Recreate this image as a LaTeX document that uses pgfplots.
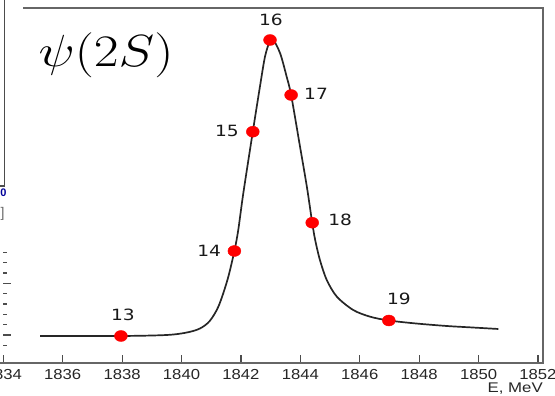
\documentclass[border=0pt]{standalone}
\usepackage{pgfplots}
\pgfplotsset{compat=1.18}
\usetikzlibrary{calc}
\usepackage{graphicx}
\usepackage{fontspec}
\newfontfamily\dv{DejaVu Sans}
\newfontfamily\lib{Liberation Sans}
\newcommand\sx[1]{\scalebox{1.15}[1]{#1}}
\newcommand\sy[1]{\scalebox{1.2}[1]{#1}}
\begin{document}
\begin{tikzpicture}[x=1pt,y=1pt]
\begin{axis}[
  name=ax, scale only axis,
  width=539.7pt, height=355.5pt,
  xmin=1834, xmax=1852.17, ymin=0, ymax=355.5,
  axis x line=bottom, axis y line=left,
  axis line style={draw=none,-},
  tick align=inside,
  xtick={1834,1836,...,1852},
  xticklabels={\sx{1834},\sx{1836},\sx{1838},\sx{1840},\sx{1842},\sx{1844},\sx{1846},\sx{1848},\sx{1850},\sx{1852}},
  minor x tick num=3,
  ytick={28.5,80.2},
  yticklabels={},
  minor ytick={18.2,38.8,49.2,59.5,69.8,90.5,100.9,111.2},
  major tick length=8pt, minor tick length=4pt,
  every tick/.style={black!70, line width=1.2pt},
  xticklabel style={font=\lib\fontsize{14.5}{15}\selectfont, text=black!85, yshift=-2.5pt},
  clip=false,
]
\coordinate (O) at (rel axis cs:0,0);
\addplot[smooth, black!85, line width=1.7pt] coordinates {
(1835.24,27.5) (1837.96,27.5) (1839.50,28.5) (1840.18,31.0) (1840.62,35.0)
(1840.95,42.5) (1841.25,57.5) (1841.55,84.0) (1841.78,112.5) (1841.91,133.5)
(1842.08,170.2) (1842.40,231.8) (1842.64,276.8) (1842.81,306.8) (1842.98,323.5)
(1843.06,325.5) (1843.32,310.2) (1843.54,286.8) (1843.69,268.5) (1843.99,216.8)
(1844.22,176.8) (1844.40,140.8) (1844.50,123.5) (1844.66,103.5) (1844.89,83.5)
(1845.23,66.8) (1845.78,53.5) (1846.35,46.8) (1846.98,43) (1847.9,40)
(1848.93,37.5) (1849.8,36) (1850.67,34.5)
};
\addplot[only marks, mark=*, mark size=5.5pt, red, mark options={xscale=1.18, draw=red, fill=red}] coordinates {
(1837.96,27.5) (1841.78,112.5) (1842.40,231.8) (1842.98,323.5) (1843.69,268.5) (1844.40,140.8) (1846.98,43)
};
\begin{scope}[every node/.style={font=\dv\fontsize{15.5}{16}\selectfont, text=black!90}]
\node at (axis cs:1838.03,48.5) {\sy{13}};
\node at (axis cs:1840.93,112.5) {\sy{14}};
\node at (axis cs:1841.53,232.5) {\sy{15}};
\node at (axis cs:1843.01,343.5) {\sy{16}};
\node at (axis cs:1844.53,269.5) {\sy{17}};
\node at (axis cs:1845.34,143.5) {\sy{18}};
\node at (axis cs:1847.32,64.5) {\sy{19}};
\end{scope}
\end{axis}
\begin{scope}[shift={($(O)+(-3.3,-32.5)$)}]
\draw[black!60, line width=2pt] (0,32.5) -- (543,32.5) -- (543,388) -- (23,388);
\draw[black!70, line width=1.5pt] (0,210) -- (4.5,210) -- (4.5,397);
\node[font=\lib\bfseries\fontsize{11}{11}\selectfont, text=blue!60!black] at (3.5,203) {0};
\node[font=\lib\fontsize{14}{14}\selectfont, text=black!60] at (2.5,182.5) {]};
\node[font=\Huge] at (106,340.5) {\scalebox{2.17}[1.81]{$\psi(2S)$}};
\node[font=\lib\fontsize{14}{14}\selectfont, text=black!85, anchor=east, inner sep=1pt] at (544,7.5) {\sy{E, MeV}};
\pgfresetboundingbox
\useasboundingbox (0,0) rectangle (555,396);
\end{scope}
\end{tikzpicture}
\end{document}
